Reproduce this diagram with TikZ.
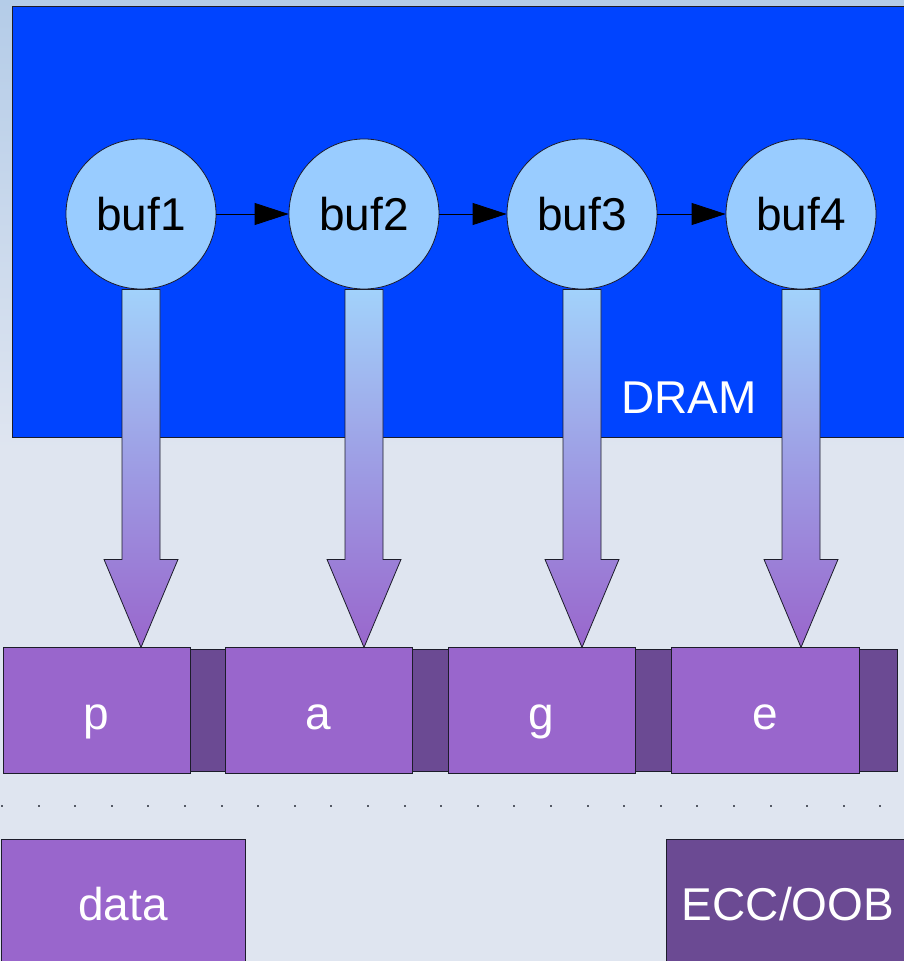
\documentclass[tikz,border=0pt]{standalone}
\usepackage{fontspec}
\setmainfont{Liberation Sans}
\usetikzlibrary{calc,arrows.meta}

\definecolor{bgtop}{HTML}{B4CCE8}
\definecolor{bgbot}{HTML}{DFE5F0}
\definecolor{dramblue}{HTML}{0044FF}
\definecolor{buffill}{HTML}{99CCFF}
\definecolor{datafill}{HTML}{9966CC}
\definecolor{eccfill}{HTML}{6B4A93}
\definecolor{edgecol}{HTML}{1C1C2A}
\definecolor{flowtop}{HTML}{A2D2FB}
\definecolor{flowbot}{HTML}{9966CC}
\definecolor{dotcol}{HTML}{555A66}

\begin{document}
\begin{tikzpicture}[x=1pt,y=-1pt,
  font=\fontsize{46}{55}\selectfont,
  region/.style={rectangle, draw=edgecol, fill=dramblue, line width=0.9pt, inner sep=0},
  bufnode/.style={circle, draw=edgecol, fill=buffill, line width=0.8pt,
    minimum size=150pt, inner sep=0, text=black},
  databox/.style={rectangle, draw=edgecol, fill=datafill, line width=0.8pt,
    inner sep=0, text=white, minimum height=126pt},
  pagebox/.style={databox, text height=38pt, text depth=0pt},
  eccbox/.style={rectangle, draw=edgecol, fill=eccfill, line width=0.8pt,
    inner sep=0, text=white, minimum height=122pt},
  link/.style={draw=black, line width=0.8pt, -{Triangle[length=34pt,width=22pt]}},
  flowarrow/.style={top color=flowtop, bottom color=flowbot, draw=edgecol, line width=0.8pt},
  whitetext/.style={text=white, inner sep=0}]

  \useasboundingbox (0,0) rectangle (904,961);
  \clip (0,0) rectangle (904,961);

  % background
  \shade[top color=bgtop, bottom color=bgbot] (0,0) rectangle (904,450);
  \fill[bgbot] (0,450) rectangle (904,961);

  % DRAM region
  \node[region, minimum width=900pt, minimum height=431pt] (dram) at (462,221.5) {};
  \node[whitetext] (dramlabel) at (689,398) {DRAM};

  % buffers in DRAM
  \node[bufnode] (b1) at (141,214) {buf1};
  \node[bufnode] (b2) at (364,214) {buf2};
  \node[bufnode] (b3) at (582,214) {buf3};
  \node[bufnode] (b4) at (801,214) {buf4};

  \draw[link] (b1) -- (b2);
  \draw[link] (b2) -- (b3);
  \draw[link] (b3) -- (b4);

  % page: data areas and ECC/OOB areas
  \node[pagebox, minimum width=187pt] (p) at (96.5,710) {p};
  \node[eccbox, minimum width=35pt] (o1) at (207.5,710) {};
  \node[pagebox, minimum width=187pt] (a) at (318.5,710) {a};
  \node[eccbox, minimum width=36pt] (o2) at (430,710) {};
  \node[pagebox, minimum width=187pt] (g) at (541.5,710) {g};
  \node[eccbox, minimum width=36pt] (o3) at (653,710) {};
  \node[pagebox, minimum width=188pt] (e) at (765,710) {e};
  \node[eccbox, minimum width=38pt] (o4) at (878,710) {};

  % block arrows from buffers down to the page
  \foreach \b in {b1,b2,b3,b4} {
    \shade[flowarrow]
      ($(\b.south)+(-19,0)$) -- ($(\b.south)+(-19,270)$) --
      ($(\b.south)+(-37,270)$) -- ($(\b.south)+(0,358)$) --
      ($(\b.south)+(37,270)$) -- ($(\b.south)+(19,270)$) --
      ($(\b.south)+(19,0)$) -- cycle;
  }

  % dotted separator
  \foreach \i in {0,...,24} {
    \fill[dotcol] ({2+36.6*\i-1},805) rectangle ({2+36.6*\i+1},807);
  }

  % legend
  \node[databox, minimum width=244pt, minimum height=130pt] (legdata) at (123,904) {data};
  \node[eccbox, minimum width=244pt, minimum height=130pt] (legecc) at (788,904) {ECC/OOB};
\end{tikzpicture}
\end{document}
